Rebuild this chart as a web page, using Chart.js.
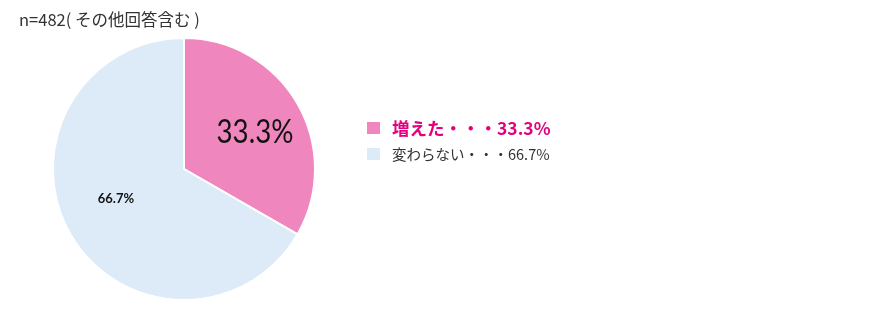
<!DOCTYPE html>
<html>
<head>
<meta charset="utf-8">
<script src="https://cdn.jsdelivr.net/npm/chart.js@4"></script>
<style>
  html, body { margin: 0; padding: 0; background: #fff; }
  #wrap { position: relative; width: 879px; height: 316px; }
</style>
</head>
<body>
<div id="wrap"><canvas id="pie" width="879" height="316"></canvas></div>
<script>
// データ
var titulo = 'n=482( その他回答含む )'
var categorias = ['増えた', '変わらない']
var valores = [33.3, 66.7]
var cores = ['#EF87BE', '#DCEBF7']
var coresLegenda = ['#E4007F', '#333333']

const ctx = document.getElementById('pie')

// rótulos dentro das fatias + legenda à direita + título
const rotulosPlugin = {
  id: 'rotulos',
  afterDraw(chart) {
    const c = chart.ctx
    const arcs = chart.getDatasetMeta(0).data
    c.save()
    c.textAlign = 'center'
    c.textBaseline = 'middle'
    c.fillStyle = '#111'
    for (var i = 0; i < arcs.length; i++) {
      var a = arcs[i]
      var meio = (a.startAngle + a.endAngle) / 2
      var r = a.outerRadius * 0.6
      var x = a.x + Math.cos(meio) * r
      var y = a.y + Math.sin(meio) * r
      var txt = valores[i].toFixed(1) + '%'
      if (i == 0) {
        c.font = '33px Lato, sans-serif'
        var w = c.measureText(txt).width
        c.save()
        c.translate(x + 3, y + 3)
        c.scale(77 / w, 1)
        c.fillText(txt, 0, 0)
        c.restore()
      } else {
        c.font = 'bold 13px Lato, sans-serif'
        c.fillText(txt, x, y - 10)
      }
    }

    // título
    c.textAlign = 'left'
    c.fillStyle = '#333'
    c.font = '16.5px "Noto Sans CJK JP", sans-serif'
    c.fillText(titulo, 19, 20)

    // legenda
    var lx = 367
    var ly = [128, 154]
    for (var i = 0; i < categorias.length; i++) {
      c.fillStyle = cores[i]
      c.fillRect(lx, ly[i] - 6, 13, 12)
      c.fillStyle = coresLegenda[i]
      if (i == 0) {
        c.font = 'bold 17.5px "Noto Sans CJK JP", sans-serif'
      } else {
        c.font = '14.5px "Noto Sans CJK JP", sans-serif'
      }
      c.fillText(categorias[i] + '・・・' + valores[i].toFixed(1) + '%', lx + 25, ly[i])
    }
    c.restore()
  }
}

new Chart(ctx, {
  type: 'pie',
  data: {
    labels: categorias,
    datasets: [{
      data: valores,
      backgroundColor: cores,
      borderColor: '#ffffff',
      borderWidth: 2
    }]
  },
  options: {
    responsive: false,
    animation: false,
    layout: {
      padding: { top: 37, bottom: 15, left: 52, right: 563 }
    },
    plugins: {
      legend: { display: false },
      tooltip: { enabled: false }
    }
  },
  plugins: [rotulosPlugin]
})
</script>
</body>
</html>
